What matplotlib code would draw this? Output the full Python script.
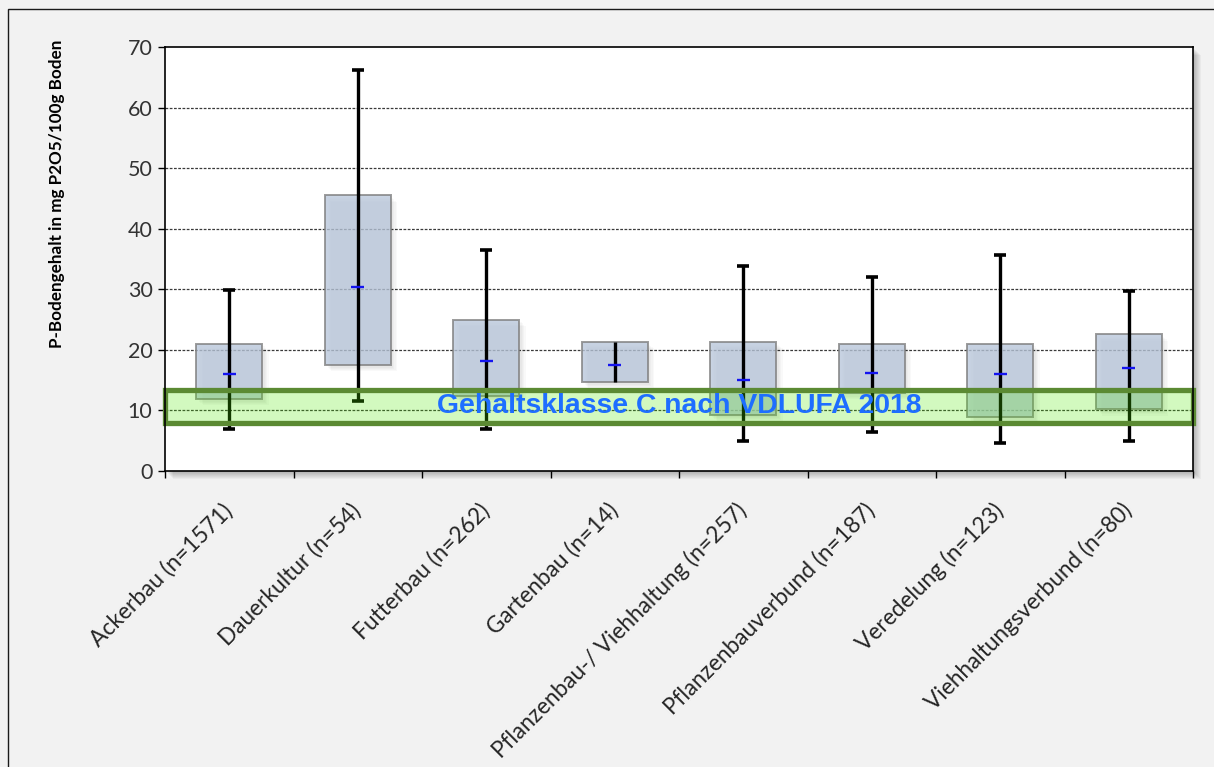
import matplotlib
matplotlib.use("Agg")
import matplotlib.pyplot as plt
from matplotlib.patches import Rectangle
from matplotlib.transforms import offset_copy

# Betriebstypen mit Stichprobenumfang
categories = [
    "Ackerbau (n=1571)",
    "Dauerkultur (n=54)",
    "Futterbau (n=262)",
    "Gartenbau (n=14)",
    "Pflanzenbau-/ Viehhaltung (n=257)",
    "Pflanzenbauverbund (n=187)",
    "Veredelung (n=123)",
    "Viehhaltungsverbund (n=80)",
]

# P-Gehalte (mg P2O5 / 100 g Boden)
whisker_low = [6.9, 11.6, 6.9, 14.7, 5.0, 6.5, 4.7, 4.9]
box_low = [11.9, 17.5, 12.3, 14.7, 9.2, 12.9, 8.9, 10.2]
median = [16.0, 30.4, 18.2, 17.5, 15.0, 16.2, 16.0, 17.0]
box_high = [21.0, 45.5, 25.0, 21.3, 21.3, 21.0, 21.0, 22.6]
whisker_high = [29.9, 66.2, 36.5, 21.3, 33.9, 32.1, 35.7, 29.7]

# Gehaltsklasse C (VDLUFA 2018)
class_c_low = 7.9
class_c_high = 13.4
class_c_label = "Gehaltsklasse C nach VDLUFA 2018"

y_label = "P-Bodengehalt in mg P2O5/100g Boden"
y_ticks = [0, 10, 20, 30, 40, 50, 60, 70]

W, H = 1214, 767
fig = plt.figure(figsize=(W / 100, H / 100), dpi=100, facecolor="#f2f2f2")

left_px, right_px, top_px, bottom_px = 165, 1193, 47, 471
ax = fig.add_axes([left_px / W, 1 - bottom_px / H,
                   (right_px - left_px) / W, (bottom_px - top_px) / H])
ax.set_facecolor("white")
ax.set_zorder(1)

# outer frame of the chart area
fig.add_artist(Rectangle((8 / W, -0.1), 1.2, 1 - 9 / H + 0.1,
                         transform=fig.transFigure, fill=False,
                         ec="#1a1a1a", lw=1.0, zorder=0))

# soft drop shadow of the plot area
for k in range(1, 9):
    fig.add_artist(Rectangle(((left_px + k) / W, 1 - (bottom_px + k) / H),
                             (right_px - left_px) / W, (bottom_px - top_px) / H,
                             transform=fig.transFigure, fc="black", ec="none",
                             alpha=0.035, zorder=0.5))

n = len(categories)
xs = list(range(n))
box_w = 0.51

ax.set_xlim(-0.5, n - 0.5)
ax.set_ylim(0, 70)

# dashed horizontal gridlines
for y in y_ticks[1:-1]:
    ax.axhline(y, color="#3a3a3a", lw=0.9, ls=(0, (2.2, 1.2)), zorder=1)

# box shadows
for k in range(1, 6):
    tr = offset_copy(ax.transData, fig=fig, x=k * 1.3, y=-k * 1.3, units="dots")
    for i in xs:
        ax.add_patch(Rectangle((i - box_w / 2, box_low[i]), box_w,
                               box_high[i] - box_low[i], transform=tr,
                               fc="black", ec="none", alpha=0.025, zorder=1.5))

# interquartile boxes
for i in xs:
    ax.add_patch(Rectangle((i - box_w / 2, box_low[i]), box_w,
                           box_high[i] - box_low[i],
                           fc=(186 / 255, 200 / 255, 220 / 255), alpha=0.78,
                           ec="#7f7f7f", lw=1.4, zorder=2))

# whiskers
cap = 0.047
for i in xs:
    ax.plot([i, i], [whisker_low[i], whisker_high[i]], color="black",
            lw=2.4, solid_capstyle="butt", zorder=3)
    if whisker_high[i] > box_high[i]:
        ax.plot([i - cap, i + cap], [whisker_high[i]] * 2, color="black",
                lw=2.6, solid_capstyle="butt", zorder=3)
    if whisker_low[i] < box_low[i]:
        ax.plot([i - cap, i + cap], [whisker_low[i]] * 2, color="black",
                lw=2.6, solid_capstyle="butt", zorder=3)

# medians
for i in xs:
    ax.plot([i - 0.05, i + 0.05], [median[i]] * 2, color="#1414f0",
            lw=1.7, solid_capstyle="butt", zorder=4)

# class C band
ax.add_patch(Rectangle((-0.5, class_c_low), n, class_c_high - class_c_low,
                       fc=(76 / 255, 232 / 255, 0), alpha=0.25, ec="none",
                       zorder=5, clip_on=False))
ax.add_patch(Rectangle((-0.5, class_c_low), n, class_c_high - class_c_low,
                       fill=False, ec="#5b8a33", lw=3.8, zorder=5.5,
                       clip_on=False))
ax.text((n - 1) / 2, 9.6, class_c_label, ha="center", va="baseline",
        fontsize=20.4, fontweight="bold", color="#1e6eff",
        family=["Liberation Sans", "DejaVu Sans"], zorder=6)

# axes styling
for s in ax.spines.values():
    s.set_color("black")
    s.set_linewidth(1.2)
    s.set_zorder(7)

ax.set_yticks(y_ticks)
ax.set_yticklabels([str(v) for v in y_ticks], fontsize=15.5,
                   family=["Lato", "DejaVu Sans"], color="#333333")
ax.tick_params(axis="y", direction="out", length=5, width=1, pad=4)

ax.set_xticks(xs)
ax.set_xticklabels(categories, rotation=45, ha="right", va="center",
                   rotation_mode="anchor", fontsize=16.3,
                   family=["Lato", "DejaVu Sans"], color="#262626")
ax.set_xticks([x - 0.5 for x in range(n + 1)], minor=True)
ax.tick_params(axis="x", which="major", length=0, pad=26)
ax.tick_params(axis="x", which="minor", direction="out", length=5, width=1)

fig.text(57 / W, 1 - 194 / H, y_label, rotation=90, ha="center", va="center",
         fontsize=12.3, fontweight="bold", family=["Lato", "DejaVu Sans"],
         color="black")

fig.savefig("out.png", dpi=100, facecolor=fig.get_facecolor())
